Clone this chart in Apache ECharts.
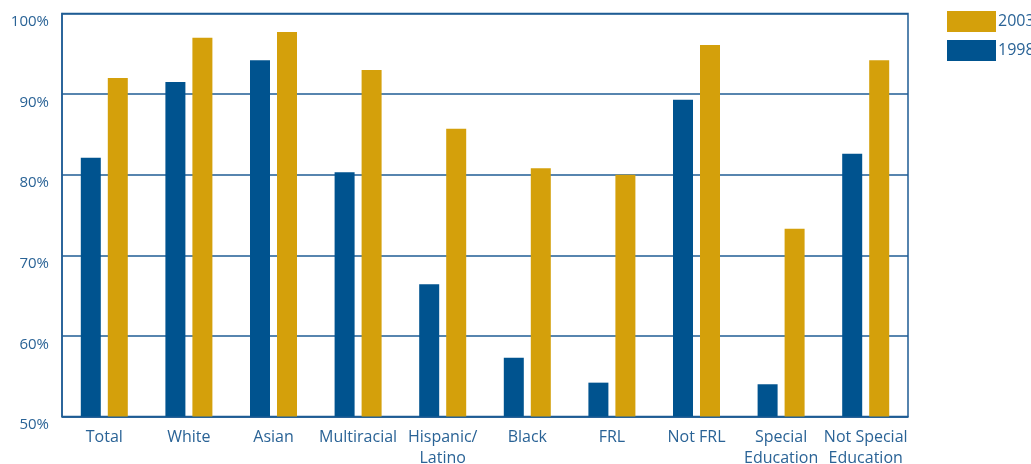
<!DOCTYPE html>
<html>
<head>
<meta charset="utf-8">
<script src="https://cdn.jsdelivr.net/npm/echarts@6/dist/echarts.min.js"></script>
<style>html,body{margin:0;padding:0;background:#fff;}#c{width:1031px;height:464px;}</style>
</head>
<body>
<div id="c"></div>
<script>
const categories = ['Total','White','Asian','Multiracial','Hispanic/\nLatino','Black','FRL','Not FRL','Special\nEducation','Not Special\nEducation'];
const values1998 = [82.1, 91.5, 94.2, 80.3, 66.4, 57.3, 54.2, 89.3, 54.0, 82.6];
const values2003 = [92.0, 97.0, 97.7, 93.0, 85.7, 80.8, 80.0, 96.1, 73.3, 94.2];
const yTicks = [50, 60, 70, 80, 90, 100];

const blue = '#00538F';
const gold = '#D4A00B';
const textColor = '#2A6396';
const lineColor = '#1F5C94';
const font = '"Open Sans", "Noto Sans", sans-serif';

const chart = echarts.init(document.getElementById('c'), null, {renderer: 'canvas'});
chart.setOption({
  animation: false,
  backgroundColor: '#fff',
  grid: {left: 62, right: 123, top: 13.5, bottom: 47.5, outerBoundsMode: 'none', containLabel: false, show: true, borderColor: lineColor, borderWidth: 1.5, backgroundColor: 'transparent'},
  legend: {
    data: ['2003', '1998'],
    orient: 'vertical',
    left: 947, top: 11, padding: 0,
    itemWidth: 49, itemHeight: 21, itemGap: 8,
    icon: 'rect',
    textStyle: {color: textColor, fontSize: 16, fontFamily: font, padding: [0,0,0,-3]}
  },
  xAxis: {
    type: 'category',
    data: categories,
    axisLine: {show: true, lineStyle: {color: lineColor, width: 1.5}},
    axisTick: {show: false},
    axisLabel: {color: textColor, fontSize: 16, fontFamily: font, lineHeight: 21, margin: 10, interval: 0}
  },
  yAxis: {
    type: 'value',
    min: 50, max: 100, interval: 10,
    axisLine: {show: true, lineStyle: {color: lineColor, width: 1.5}},
    axisTick: {show: false},
    splitLine: {show: true, lineStyle: {color: lineColor, width: 1.5}},
    axisLabel: {
      color: textColor, fontSize: 15, fontFamily: font, margin: 13,
      verticalAlign: 'top', padding: [1,0,0,0],
      formatter: v => yTicks.includes(v) ? v + '%' : ''
    }
  },
  series: [
    {name: '1998', type: 'bar', data: values1998, barWidth: 20, barGap: '35%', itemStyle: {color: blue}},
    {name: '2003', type: 'bar', data: values2003, barWidth: 20, barGap: '35%', itemStyle: {color: gold}}
  ]
});
</script>
</body>
</html>
